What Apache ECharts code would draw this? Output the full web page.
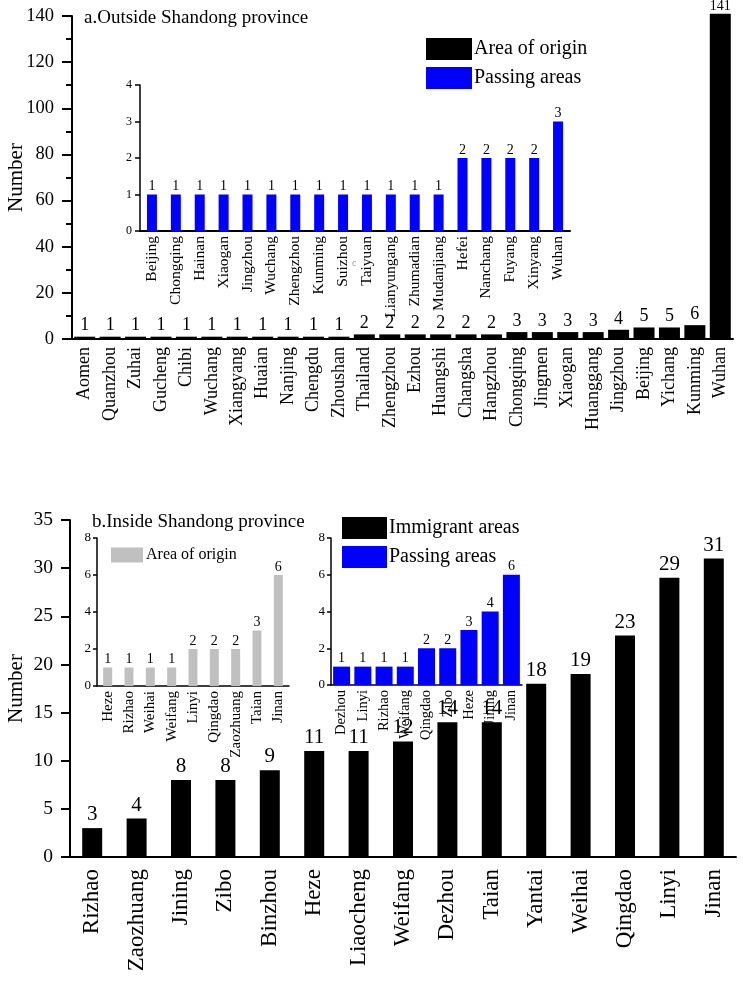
<!DOCTYPE html>
<html><head><meta charset="utf-8">
<script src="https://cdn.jsdelivr.net/npm/echarts@6/dist/echarts.min.js"></script>
<style>html,body{margin:0;padding:0;background:#fff}#c{width:743px;height:985px}</style>
</head><body><div id="c"></div>
<script>
// a. Outside Shandong province
const outsideCats = ['Aomen','Quanzhou','Zuhai','Gucheng','Chibi','Wuchang','Xiangyang','Huaian','Nanjing','Chengdu','Zhoushan','Thailand','Zhengzhou','Ezhou','Huangshi','Changsha','Hangzhou','Chongqing','Jingmen','Xiaogan','Huanggang','Jingzhou','Beijing','Yichang','Kunming','Wuhan'];
const outsideVals = [1,1,1,1,1,1,1,1,1,1,1,2,2,2,2,2,2,3,3,3,3,4,5,5,6,141];
const passACats = ['Beijing','Chongqing','Hainan','Xiaogan','Jingzhou','Wuchang','Zhengzhou','Kunming','Suizhou','Taiyuan','Lianyungang','Zhumadian','Mudanjiang','Hefei','Nanchang','Fuyang','Xinyang','Wuhan'];
const passAVals = [1,1,1,1,1,1,1,1,1,1,1,1,1,2,2,2,2,3];
// b. Inside Shandong province
const insideCats = ['Rizhao','Zaozhuang','Jining','Zibo','Binzhou','Heze','Liaocheng','Weifang','Dezhou','Taian','Yantai','Weihai','Qingdao','Linyi','Jinan'];
const insideVals = [3,4,8,8,9,11,11,12,14,14,18,19,23,29,31];
const originBCats = ['Heze','Rizhao','Weihai','Weifang','Linyi','Qingdao','Zaozhuang','Taian','Jinan'];
const originBVals = [1,1,1,1,2,2,2,3,6];
const passBCats = ['Dezhou','Linyi','Rizhao','Weifang','Qingdao','Zibo','Heze','Jining','Jinan'];
const passBVals = [1,1,1,1,2,2,3,4,6];

const F = '"Liberation Serif","Times New Roman",serif';
const chart = echarts.init(document.getElementById('c'), null, {renderer:'canvas'});

function catAxis(gi, data, fs, margin, lw){
  return {type:'category', gridIndex:gi, data:data,
    axisLine:{lineStyle:{color:'#000', width:lw}}, axisTick:{show:false},
    axisLabel:{rotate:90, fontFamily:F, fontSize:fs, color:'#000', margin:margin, interval:0}};
}
function valAxis(gi, max, interval, fs, lw, tickLen, margin, extra){
  return Object.assign({type:'value', gridIndex:gi, min:0, max:max, interval:interval,
    axisLine:{show:true, lineStyle:{color:'#000', width:lw}},
    axisTick:{show:true, length:tickLen, lineStyle:{color:'#000', width:lw}},
    splitLine:{show:false},
    axisLabel:{fontFamily:F, fontSize:fs, color:'#000', margin:margin}}, extra||{});
}
function lbl(fs, dist){ return {show:true, position:'top', fontFamily:F, fontSize:fs, color:'#000', distance:dist}; }
function grid(l, t, w, h){ return {left:l, top:t, width:w, height:h, containLabel:false, outerBoundsMode:'none'}; }

const maxOutside = Math.max(...outsideVals);
const outsideData = outsideVals.map(v => v === maxOutside ? {value:v, label:{fontSize:14, distance:0}} : v);

const option = {
  backgroundColor:'#fff',
  animation:false,
  title:[
    {text:'a.Outside Shandong province', left:79, top:4, textStyle:{fontFamily:F, fontSize:19, fontWeight:'normal', color:'#000'}},
    {text:'b.Inside Shandong province', left:87, top:508, textStyle:{fontFamily:F, fontSize:19, fontWeight:'normal', color:'#000'}}
  ],
  legend:[
    {orient:'vertical', left:421, top:33, itemWidth:46, itemHeight:22, itemGap:7, icon:'rect', selectedMode:false,
     data:['Area of origin','Passing areas'], textStyle:{fontFamily:F, fontSize:20, color:'#000', padding:[0,0,0,-3]}},
    {orient:'vertical', left:337, top:512, itemWidth:45, itemHeight:22, itemGap:7, icon:'rect', selectedMode:false,
     data:['Immigrant areas','Passing areas'], textStyle:{fontFamily:F, fontSize:20, color:'#000', padding:[0,0,0,-3]}},
    {orient:'vertical', left:106, top:542, itemWidth:32, itemHeight:15, icon:'rect', selectedMode:false,
     data:['Area of origin '], textStyle:{fontFamily:F, fontSize:16, color:'#000', padding:[0,0,0,-2]}}
  ],
  grid:[
    grid(72, 16, 661, 323),
    grid(140, 85, 430, 146),
    grid(70, 520, 666, 337),
    grid(97, 538, 192, 148),
    grid(331, 538, 191, 147)
  ],
  xAxis:[
    catAxis(0, outsideCats, 18, 8, 2),
    catAxis(1, passACats, 15.5, 5, 2),
    catAxis(2, insideCats, 23, 12, 2),
    catAxis(3, originBCats, 15, 5, 1.5),
    catAxis(4, passBCats, 14.5, 5, 1.5)
  ],
  yAxis:[
    valAxis(0, 140, 20, 18.5, 2, 10, 18, {name:'Number', nameLocation:'middle', nameGap:45, nameRotate:90, nameMoveOverlap:false,
      nameTextStyle:{fontFamily:F, fontSize:21, color:'#000'},
      minorTick:{show:true, splitNumber:2, length:6, lineStyle:{color:'#000', width:2}}}),
    valAxis(1, 4, 1, 12, 1.5, 5, 8),
    valAxis(2, 35, 5, 19.5, 2, 9, 17, {name:'Number', nameLocation:'middle', nameGap:43, nameRotate:90, nameMoveOverlap:false,
      nameTextStyle:{fontFamily:F, fontSize:21, color:'#000'}}),
    valAxis(3, 8, 2, 13, 1.5, 4, 6),
    valAxis(4, 8, 2, 13, 1.5, 4, 6)
  ],
  series:[
    {name:'Area of origin', type:'bar', xAxisIndex:0, yAxisIndex:0, data:outsideData, barWidth:21, clip:false,
     itemStyle:{color:'#000'}, label:lbl(18, 2)},
    {name:'Passing areas', type:'bar', xAxisIndex:1, yAxisIndex:1, data:passAVals, barWidth:10,
     itemStyle:{color:'#0000ff'}, label:lbl(14, 1)},
    {name:'Immigrant areas', type:'bar', xAxisIndex:2, yAxisIndex:2, data:insideVals, barWidth:20,
     itemStyle:{color:'#000'}, label:lbl(21, 3)},
    {name:'Area of origin ', type:'bar', xAxisIndex:3, yAxisIndex:3, data:originBVals, barWidth:9,
     itemStyle:{color:'#c0c0c0'}, label:lbl(14, 1)},
    {name:'Passing areas', type:'bar', xAxisIndex:4, yAxisIndex:4, data:passBVals, barWidth:17,
     itemStyle:{color:'#0000ff'}, label:lbl(14, 1)}
  ],
  graphic:[
    {type:'text', left:352, top:258, style:{text:'c', fontFamily:F, fontSize:10, fill:'#999'}}
  ]
};
chart.setOption(option);
</script></body></html>
